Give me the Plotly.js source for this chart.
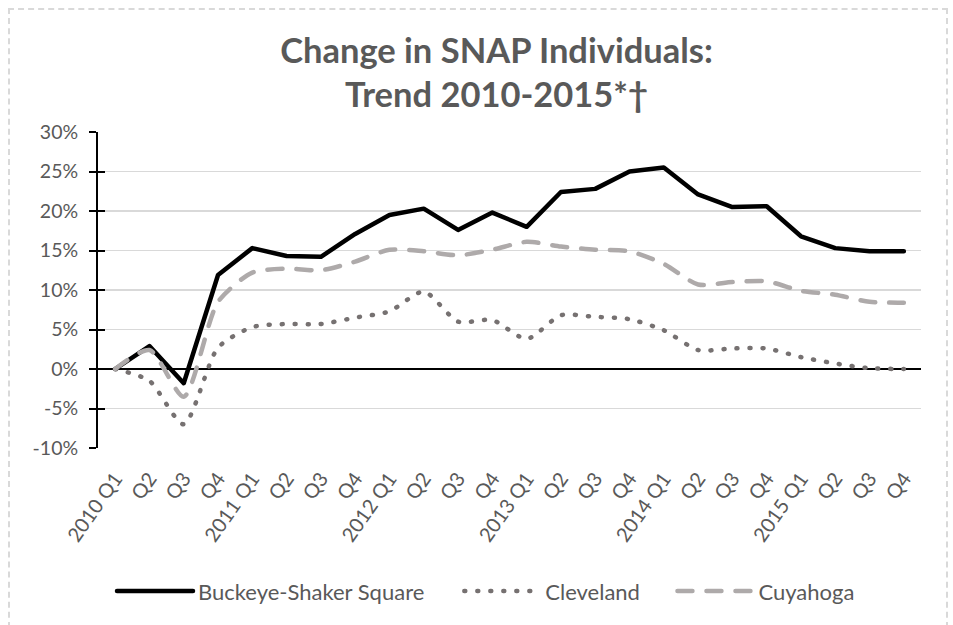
<!DOCTYPE html>
<html>
<head>
<meta charset="utf-8">
<script src="https://cdn.plot.ly/plotly-3.0.1.min.js"></script>
<style>
  html, body { margin: 0; padding: 0; background: #fff; }
  #frame { position: absolute; left: 8px; top: 8px; width: 940px; height: 630px; border: 2px dashed #d9d9d9; box-sizing: border-box; pointer-events: none; z-index: 5; }
  #chart { width: 953px; height: 625px; }
  .scatterlayer .js-line, .legendlines path { stroke-linecap: round; stroke-linejoin: round; }
</style>
</head>
<body>
<div id="frame"></div>
<div id="chart"></div>
<script>
const quarterLabels = ["2010 Q1","Q2","Q3","Q4","2011 Q1","Q2","Q3","Q4","2012 Q1","Q2","Q3","Q4","2013 Q1","Q2","Q3","Q4","2014 Q1","Q2","Q3","Q4","2015 Q1","Q2","Q3","Q4"];
const buckeye   = [0, 2.9, -1.8, 11.9, 15.3, 14.3, 14.2, 17.1, 19.5, 20.3, 17.6, 19.8, 18.0, 22.4, 22.8, 25.0, 25.5, 22.1, 20.5, 20.6, 16.8, 15.3, 14.9, 14.9];
const cleveland = [0, -1.5, -7.0, 2.7, 5.3, 5.7, 5.7, 6.5, 7.3, 9.8, 6.0, 6.2, 3.8, 6.8, 6.6, 6.3, 4.9, 2.4, 2.6, 2.6, 1.5, 0.7, 0.1, 0.0];
const cuyahoga  = [0, 2.4, -3.5, 8.5, 12.2, 12.7, 12.5, 13.6, 15.1, 14.9, 14.4, 15.1, 16.1, 15.5, 15.1, 14.9, 13.3, 10.7, 11.0, 11.1, 9.9, 9.4, 8.5, 8.4];
const yTickVals = [-10, -5, 0, 5, 10, 15, 20, 25, 30];
const yTickText = ["-10%", "-5%", "0%", "5%", "10%", "15%", "20%", "25%", "30%"];
const seriesNames = ["Buckeye-Shaker Square", "Cleveland", "Cuyahoga"];

const xIdx = quarterLabels.map((_, i) => i);
const FONT = "Lato, 'Open Sans', sans-serif";
const GRAY = "#595959";

const traces = [
  { x: xIdx, y: buckeye, name: seriesNames[0], type: "scatter", mode: "lines", legend: "legend",
    line: { color: "#000000", width: 4.5 } },
  { x: xIdx, y: cleveland, name: seriesNames[1], type: "scatter", mode: "lines", legend: "legend2",
    line: { color: "#767171", width: 4.5, dash: "1px,12px", shape: "spline", smoothing: 0.7 } },
  { x: xIdx, y: cuyahoga, name: seriesNames[2], type: "scatter", mode: "lines", legend: "legend3",
    line: { color: "#AEAAAA", width: 4.5, dash: "15px,14px", shape: "spline", smoothing: 0.7 } },
  { x: [0], y: [0], yaxis: "y2", type: "scatter", mode: "lines", showlegend: false, hoverinfo: "skip",
    line: { color: "rgba(0,0,0,0)", width: 0 } }
];

function legendAt(x) {
  return {
    orientation: "h", x: x, xanchor: "left", y: -0.453, yanchor: "middle",
    font: { family: FONT, size: 22, color: GRAY },
    itemwidth: 76, bgcolor: "rgba(0,0,0,0)"
  };
}

const layout = {
  width: 953, height: 625,
  margin: { l: 98, r: 32, t: 132, b: 177 },
  paper_bgcolor: "#ffffff", plot_bgcolor: "#ffffff",
  font: { family: FONT, color: GRAY, size: 18 },
  title: {
    text: "<b>Change in SNAP Individuals:<br>Trend 2010-2015*†</b>",
    font: { family: FONT, size: 34.5, color: GRAY },
    x: 0.521, xanchor: "center", y: 0.9, yanchor: "top"
  },
  xaxis: {
    range: [-0.5, 23.5],
    tickmode: "array", tickvals: xIdx, ticktext: quarterLabels,
    tickangle: -55, ticks: "", showgrid: false, zeroline: false, showline: false,
    ticklabelstandoff: 14,
    tickfont: { family: FONT, size: 20, color: GRAY }, fixedrange: true
  },
  yaxis: {
    range: [-10, 30],
    tickmode: "array", tickvals: yTickVals, ticktext: yTickText,
    showgrid: true, gridcolor: "#d9d9d9", gridwidth: 1.3,
    zeroline: true, zerolinecolor: "#000000", zerolinewidth: 2,
    showline: true, linecolor: "#000000", linewidth: 2,
    ticks: "outside", ticklen: 7, tickwidth: 2, tickcolor: "#000000",
    ticklabelstandoff: 7,
    tickfont: { family: FONT, size: 19.5, color: GRAY }, fixedrange: true
  },
  yaxis2: {
    overlaying: "y", side: "left", range: [-10, 30],
    tickmode: "array", tickvals: yTickVals, ticktext: yTickText,
    showticklabels: false, showgrid: false, zeroline: false, showline: false,
    ticks: "inside", ticklen: 7, tickwidth: 2, tickcolor: "#000000", fixedrange: true
  },
  showlegend: true,
  legend: legendAt(0.017),
  legend2: legendAt(0.439),
  legend3: legendAt(0.698)
};

Plotly.newPlot("chart", traces, layout, { displayModeBar: false, staticPlot: true });
</script>
</body>
</html>
